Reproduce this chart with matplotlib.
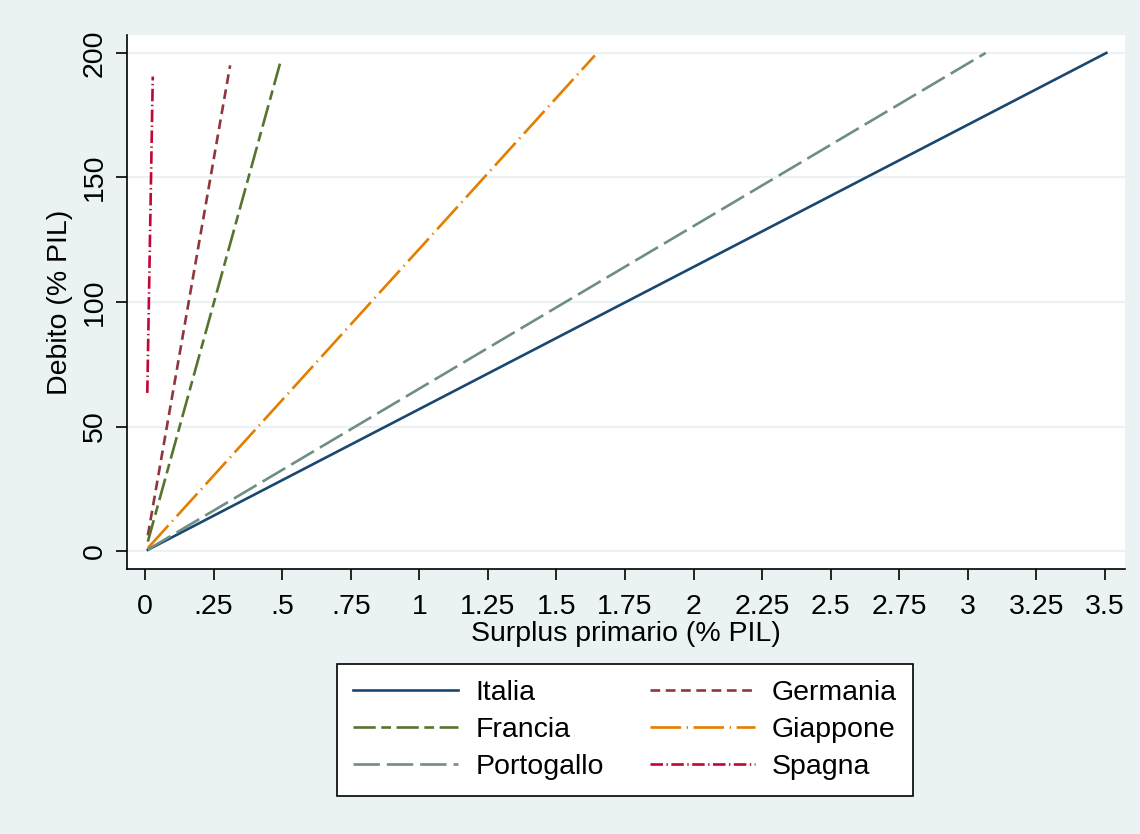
import matplotlib
matplotlib.use("Agg")
import matplotlib.pyplot as plt

plt.rcParams['font.family'] = ['Liberation Sans', 'DejaVu Sans']
plt.rcParams['lines.scale_dashes'] = False

bg = '#eaf2f3'

# surplus primario (x) and debito (y), start/end of each curve
countries = ['Italia', 'Germania', 'Francia', 'Giappone', 'Portogallo', 'Spagna']
surplus = {
    'Italia': [0.01, 3.505],
    'Germania': [0.01, 0.31],
    'Francia': [0.01, 0.495],
    'Giappone': [0.01, 1.64],
    'Portogallo': [0.01, 3.065],
    'Spagna': [0.008, 0.028],
}
debito = {
    'Italia': [0.5, 200],
    'Germania': [6.3, 195],
    'Francia': [3.8, 197],
    'Giappone': [1.2, 199],
    'Portogallo': [0.6, 200],
    'Spagna': [63.5, 190.5],
}
colors = {
    'Italia': '#1a476f',
    'Germania': '#90353b',
    'Francia': '#55752f',
    'Giappone': '#e37e00',
    'Portogallo': '#6e8e84',
    'Spagna': '#c10534',
}
dashes = {
    'Italia': None,
    'Germania': (7, 4),
    'Francia': (16, 4, 7, 4),
    'Giappone': (22, 4, 1, 4),
    'Portogallo': (19, 5),
    'Spagna': (9, 2.5, 1, 2.5),
}

xticks = [0, 0.25, 0.5, 0.75, 1, 1.25, 1.5, 1.75, 2, 2.25, 2.5, 2.75, 3, 3.25, 3.5]
xticklabels = ['0', '.25', '.5', '.75', '1', '1.25', '1.5', '1.75', '2', '2.25',
               '2.5', '2.75', '3', '3.25', '3.5']
yticks = [0, 50, 100, 150, 200]

fig = plt.figure(figsize=(11.4, 8.34), dpi=100, facecolor=bg)
ax = fig.add_axes([127 / 1140, 1 - 569 / 834, (1125 - 127) / 1140, (569 - 35) / 834])
ax.set_facecolor('white')

for c in countries:
    line, = ax.plot(surplus[c], debito[c], color=colors[c], lw=1.9, label=c)
    if dashes[c] is not None:
        line.set_dashes(dashes[c])

ax.set_xlim(-0.066, 3.573)
ax.set_ylim(-7.2, 207.2)
ax.set_xticks(xticks)
ax.set_xticklabels(xticklabels)
ax.set_yticks(yticks)
ax.tick_params(axis='both', labelsize=20.5, length=8, width=1.2, direction='out', pad=6)
ax.tick_params(axis='x', pad=10)
for lab in ax.get_yticklabels():
    lab.set_rotation(90)
    lab.set_va('center')
ax.yaxis.grid(True, color=bg, lw=1.5)
ax.set_axisbelow(True)
for s in ['top', 'right']:
    ax.spines[s].set_visible(False)
for s in ['left', 'bottom']:
    ax.spines[s].set_linewidth(1.2)

ax.set_xlabel('Surplus primario (% PIL)', fontsize=20.5, labelpad=1)
ax.set_ylabel('Debito (% PIL)', fontsize=20.5, labelpad=6)

handles, labels = ax.get_legend_handles_labels()
order = ['Italia', 'Francia', 'Portogallo', 'Germania', 'Giappone', 'Spagna']
h = [handles[labels.index(o)] for o in order]
leg = fig.legend(h, order, loc='center', bbox_to_anchor=(625 / 1140, 1 - 730 / 834),
                 ncol=2, fontsize=20.5, frameon=True, fancybox=False, edgecolor='black',
                 facecolor='white', framealpha=1,
                 handlelength=3.7, columnspacing=1.6, labelspacing=0.4,
                 borderpad=0.55, handletextpad=0.6, borderaxespad=0)
leg.get_frame().set_linewidth(1.2)

fig.savefig('out.png', dpi=100, facecolor=bg)
